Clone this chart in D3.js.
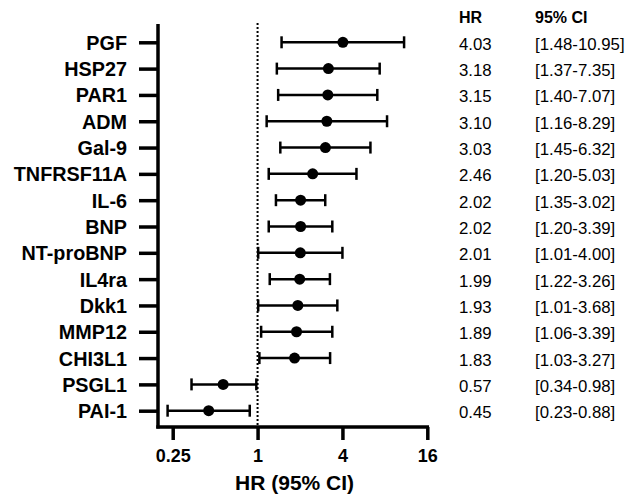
<!DOCTYPE html>
<html>
<head>
<meta charset="utf-8">
<script src="https://cdn.jsdelivr.net/npm/d3@7"></script>
<style>
  body { margin: 0; background: #fff; }
  svg { display: block; font-family: "Liberation Sans", Arial, Helvetica, sans-serif; }
</style>
</head>
<body>
<svg id="chart" width="627" height="497"></svg>
<script>
// data
const markers = ['PGF', 'HSP27', 'PAR1', 'ADM', 'Gal-9', 'TNFRSF11A', 'IL-6', 'BNP', 'NT-proBNP', 'IL4ra', 'Dkk1', 'MMP12', 'CHI3L1', 'PSGL1', 'PAI-1'];
const hr = [4.03, 3.18, 3.15, 3.10, 3.03, 2.46, 2.02, 2.02, 2.01, 1.99, 1.93, 1.89, 1.83, 0.57, 0.45];
const lower = [1.48, 1.37, 1.40, 1.16, 1.45, 1.20, 1.35, 1.20, 1.01, 1.22, 1.01, 1.06, 1.03, 0.34, 0.23];
const upper = [10.95, 7.35, 7.07, 8.29, 6.32, 5.03, 3.02, 3.39, 4.00, 3.26, 3.68, 3.39, 3.27, 0.98, 0.88];
const xTicks = [0.25, 1, 4, 16];

const rows = markers.map((m, i) => ({ name: m, hr: hr[i], lo: lower[i], hi: upper[i] }));

const svg = d3.select('#chart');

// axis frame
const axisLeftX = 158;
const axisTopY = 24;
const axisBottomY = 427;

// 0.25 sits at 172.7, 16 at 427.3; extend the domain so the axis starts at the y axis
const x0 = 172.7, x1 = 427.3;
const perUnit = (x1 - x0) / Math.log2(16 / 0.25);
const xMin = 0.25 * Math.pow(2, (axisLeftX - x0) / perUnit);

const x = d3.scaleLog().base(2)
  .domain([xMin, 16])
  .range([axisLeftX, x1]);

const y = d3.scalePoint()
  .domain(markers)
  .range([42.3, 410.7]);

// y axis
const yAxis = svg.append('g')
  .attr('transform', `translate(${axisLeftX},0)`)
  .call(d3.axisLeft(y).tickSizeOuter(0).tickSize(19).tickPadding(12));

yAxis.select('.domain')
  .attr('d', `M0,${axisTopY}V${axisBottomY + 1.5}`)
  .attr('stroke', '#000')
  .attr('stroke-width', 3.5);

yAxis.selectAll('.tick line')
  .attr('stroke', '#000')
  .attr('stroke-width', 3.5);

yAxis.selectAll('.tick text')
  .attr('font-size', '19.8px')
  .attr('font-weight', 'bold')
  .attr('fill', '#000')
  .attr('dy', '0.35em');

// x axis
const xAxis = svg.append('g')
  .attr('transform', `translate(0,${axisBottomY})`)
  .call(d3.axisBottom(x)
    .tickValues(xTicks)
    .tickFormat(d => String(d))
    .tickSizeOuter(0)
    .tickSize(13)
    .tickPadding(9));

xAxis.select('.domain')
  .attr('d', `M${axisLeftX - 1.75},0H${x(16) + 1.75}`)
  .attr('stroke', '#000')
  .attr('stroke-width', 3.5);

xAxis.selectAll('.tick line')
  .attr('stroke', '#000')
  .attr('stroke-width', 3.5);

xAxis.selectAll('.tick text')
  .attr('font-size', '18px')
  .attr('font-weight', 'bold')
  .attr('fill', '#000');

svg.append('text')
  .attr('x', x(1) + 37)
  .attr('y', 490)
  .attr('text-anchor', 'middle')
  .attr('font-size', '21px')
  .attr('font-weight', 'bold')
  .text('HR (95% CI)');

// reference line at HR = 1
svg.append('line')
  .attr('x1', x(1)).attr('x2', x(1))
  .attr('y1', axisTopY - 1).attr('y2', axisBottomY)
  .attr('stroke', '#000')
  .attr('stroke-width', 2)
  .attr('stroke-dasharray', '2,2');

// error bars
const bars = svg.append('g').selectAll('g')
  .data(rows)
  .join('g');

bars.append('line')
  .attr('x1', d => x(d.lo)).attr('x2', d => x(d.hi))
  .attr('y1', d => y(d.name)).attr('y2', d => y(d.name))
  .attr('stroke', '#000')
  .attr('stroke-width', 2.5);

bars.selectAll('line.cap')
  .data(d => [d.lo, d.hi].map(v => ({ v, name: d.name })))
  .join('line')
  .attr('class', 'cap')
  .attr('x1', d => x(d.v)).attr('x2', d => x(d.v))
  .attr('y1', d => y(d.name) - 6).attr('y2', d => y(d.name) + 6)
  .attr('stroke', '#000')
  .attr('stroke-width', 2.5);

bars.append('circle')
  .attr('cx', d => x(d.hr))
  .attr('cy', d => y(d.name))
  .attr('r', 5.5)
  .attr('fill', '#000');

// table on the right
const hrX = 459, ciX = 535;

svg.append('text')
  .attr('x', hrX).attr('y', 23)
  .attr('font-size', '16px')
  .attr('font-weight', 'bold')
  .text('HR');

svg.append('text')
  .attr('x', ciX).attr('y', 23)
  .attr('font-size', '16px')
  .attr('font-weight', 'bold')
  .text('95% CI');

svg.append('g').selectAll('text')
  .data(rows)
  .join('text')
  .attr('x', hrX)
  .attr('y', d => y(d.name) + 7.5)
  .attr('font-size', '16.8px')
  .text(d => d.hr.toFixed(2));

svg.append('g').selectAll('text')
  .data(rows)
  .join('text')
  .attr('x', ciX)
  .attr('y', d => y(d.name) + 7.5)
  .attr('font-size', '16.8px')
  .text(d => `[${d.lo.toFixed(2)}-${d.hi.toFixed(2)}]`);
</script>
</body>
</html>
